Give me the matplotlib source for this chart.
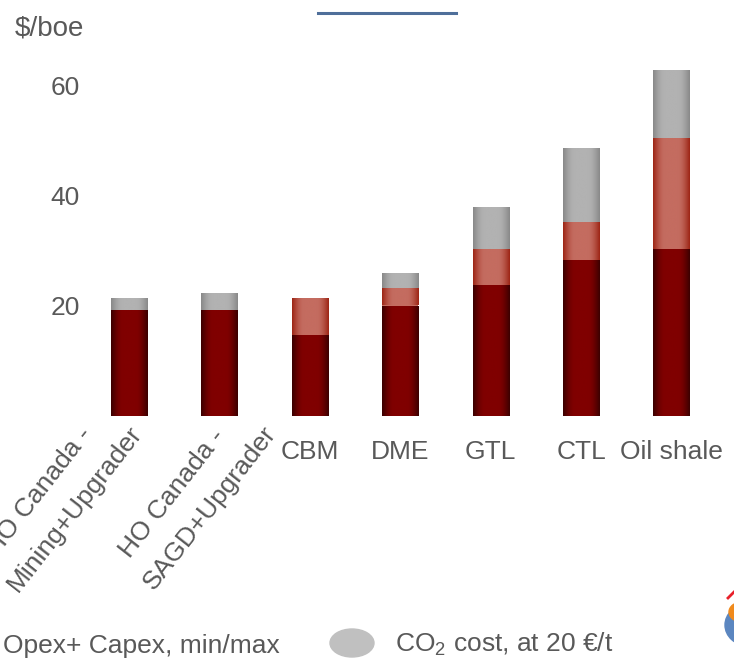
import numpy as np
import matplotlib
matplotlib.use("Agg")
import matplotlib.pyplot as plt
import matplotlib.transforms as mtransforms
from matplotlib.colors import to_rgb
from matplotlib.patches import Ellipse, Wedge

# Production cost ranges by unconventional source ($/boe)
categories = ["HO Canada -\nMining+Upgrader", "HO Canada -\nSAGD+Upgrader",
              "CBM", "DME", "GTL", "CTL", "Oil shale"]
cost_min = [19.1, 19.1, 14.7, 20.0, 23.8, 28.2, 30.2]
cost_max = [19.1, 19.1, 21.3, 23.1, 30.2, 35.1, 50.5]
cost_with_co2 = [21.3, 22.2, 21.3, 26.0, 38.0, 48.7, 62.9]
yticks = [20, 40, 60]

plt.rcParams["font.family"] = ["Liberation Sans", "DejaVu Sans"]
TXT = "#595959"
FS = 19

W, H = 734, 661
fig = plt.figure(figsize=(W / 100, H / 100), dpi=100)


def fx(px):
    return px / W


def fy(py):
    return 1 - py / H


# axes: category 0 centred at x=129px, spacing ~90.4px; y=0 at 415.5px, 5.5px per unit
left_px, right_px = 129 - 45.2, 129 + 45.2 * 13
top_px, bot_px = 415.5 - 68 * 5.5, 415.5
ax = fig.add_axes([fx(left_px), fy(bot_px), (right_px - left_px) / W, (bot_px - top_px) / H])

x = np.arange(len(categories))
lo = np.array(cost_min)
hi = np.array(cost_max)
tot = np.array(cost_with_co2)

segments = [
    (lo, np.zeros_like(lo), ("#3a0000", "#800000")),
    (hi - lo, lo, ("#9c2414", "#c46c60")),
    (tot - hi, hi, ("#888888", "#b2b2b2")),
]


def gradient_row(edge, center, n=200):
    t = np.linspace(0, 1, n)
    w = np.clip(np.minimum(t, 1 - t) / 0.33, 0, 1)
    w = np.sin(w * np.pi / 2)
    e, c = np.array(to_rgb(edge)), np.array(to_rgb(center))
    return (e[None, :] + (c - e)[None, :] * w[:, None])[None, :, :]


for heights, bottoms, (edge, center) in segments:
    bars = ax.bar(x, heights, bottom=bottoms, width=0.4, color=center, linewidth=0,
                  antialiased=False, zorder=1)
    img = gradient_row(edge, center)
    for p in bars.patches:
        if p.get_height() <= 0:
            continue
        x0, y0 = p.get_x(), p.get_y()
        im = ax.imshow(img, extent=(x0, x0 + p.get_width(), y0, y0 + p.get_height()),
                       aspect="auto", interpolation="bilinear", zorder=2)
        im.set_clip_path(p)

ax.set_xlim(-0.5, 6.5)
ax.set_ylim(0, 68)
ax.set_yticks(yticks)
ax.set_yticklabels([str(v) for v in yticks], fontsize=FS, color=TXT)
ax.tick_params(axis="y", length=0, pad=3)
ax.set_xticks([])
for s in ax.spines.values():
    s.set_visible(False)

# single-line category labels, baseline 43.5px below the axis
label_tr = ax.get_xaxis_transform() + mtransforms.ScaledTranslation(0, -43.5 / 100, fig.dpi_scale_trans)
for i, c in enumerate(categories):
    if "\n" not in c:
        ax.text(i, 0, c, transform=label_tr, ha="center", va="baseline",
                fontsize=FS, color=TXT)

# slanted two-line labels for the heavy-oil categories
rot_anchor = [((93, 434), (143, 433)), ((226, 436), (277, 433))]
for i, c in enumerate(categories[:2]):
    l1, l2 = c.split("\n")
    for line, (px, py) in zip((l1, l2), rot_anchor[i]):
        fig.text(fx(px), fy(py), line, rotation=52, rotation_mode="anchor",
                 ha="right", va="baseline", fontsize=FS, color=TXT)

fig.text(fx(15), fy(35), "$/boe", fontsize=FS + 1, color=TXT, ha="left", va="baseline")

# header rule
fig.add_artist(plt.Line2D([fx(318), fx(456)], [fy(12.5), fy(12.5)], color="#4f6f9a", lw=2.2))

# legend
fig.text(fx(3), fy(653), "Opex+ Capex, min/max", fontsize=FS, color=TXT, ha="left", va="baseline")
fig.add_artist(Ellipse((fx(352), fy(643)), 44 / W, 28 / H, color="#c0c0c0", transform=fig.transFigure))
fig.text(fx(395), fy(652), r"CO$_\mathregular{2}$ cost, at 20 €/t", fontsize=FS, color=TXT,
         ha="left", va="baseline")

# corner logo
fig.add_artist(Wedge((fx(748), fy(625)), 23 / W, 90, 270, color="#5b86c0", transform=fig.transFigure))
fig.add_artist(Ellipse((fx(742), fy(612)), 26 / W, 20 / H, color="#f08a1c", transform=fig.transFigure))
fig.add_artist(plt.Line2D([fx(728), fx(735)], [fy(598), fy(591)], color="#e8202a", lw=2))

fig.savefig("out.png", dpi=100)
